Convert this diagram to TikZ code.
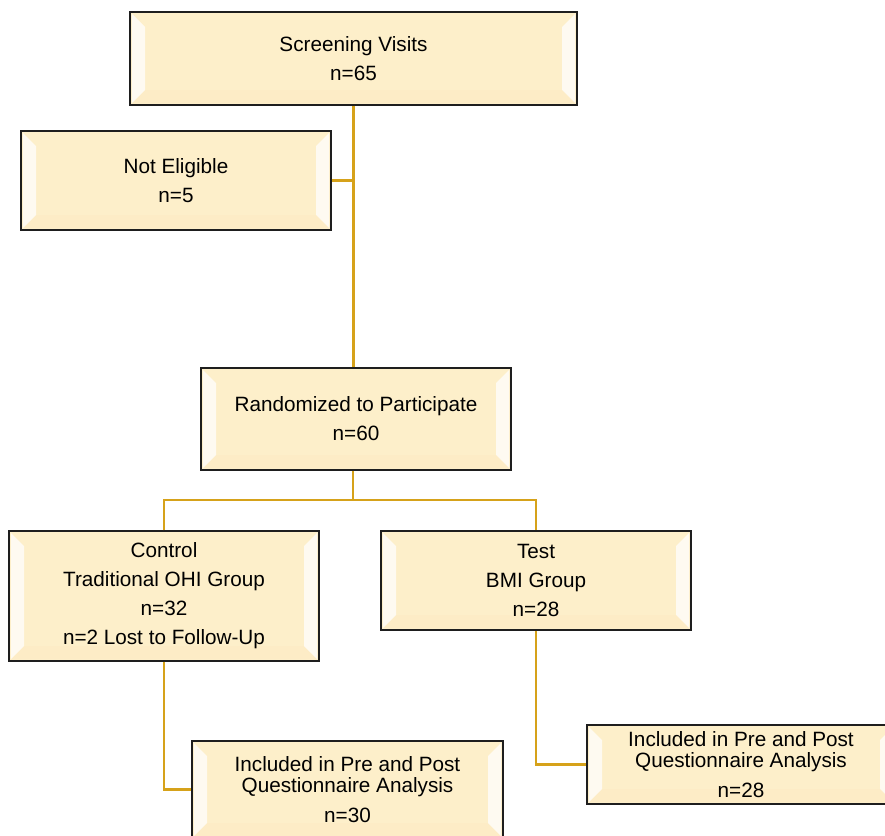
\documentclass[tikz,border=0pt]{standalone}
\usepackage{fontspec}
\setmainfont{Liberation Sans}
\definecolor{boxfill}{HTML}{FDEFCA}
\definecolor{boxline}{HTML}{1E1E1E}
\definecolor{conn}{HTML}{D6A21A}
\tikzset{
  fbox/.style={draw=boxline, line width=1.4pt, fill=boxfill, align=center,
    inner sep=0pt, font=\fontsize{20.7}{29}\selectfont,
    path picture={
      \fill[white,opacity=0.75] ([shift={(2pt,-2pt)}]path picture bounding box.north west) -- ([shift={(15pt,-15pt)}]path picture bounding box.north west) -- ([shift={(15pt,15pt)}]path picture bounding box.south west) -- ([shift={(2pt,2pt)}]path picture bounding box.south west) -- cycle;
      \fill[white,opacity=0.75] ([shift={(-2pt,-2pt)}]path picture bounding box.north east) -- ([shift={(-15pt,-15pt)}]path picture bounding box.north east) -- ([shift={(-15pt,15pt)}]path picture bounding box.south east) -- ([shift={(-2pt,2pt)}]path picture bounding box.south east) -- cycle;
      \fill[boxfill!90!orange,opacity=0.2] ([shift={(2pt,2pt)}]path picture bounding box.south west) -- ([shift={(15pt,15pt)}]path picture bounding box.south west) -- ([shift={(-15pt,15pt)}]path picture bounding box.south east) -- ([shift={(-2pt,2pt)}]path picture bounding box.south east) -- cycle;
    }},
  tight/.style={font=\fontsize{20.7}{21}\selectfont},
  link/.style={draw=conn, line width=2.4pt}
}
\begin{document}
\begin{tikzpicture}[x=1pt,y=-1pt]
\useasboundingbox (0,0) rectangle (885,835);
\coordinate (j) at (353,500);
\node[fbox, minimum width=447pt, minimum height=93pt] (scr) at (353.5,58.5) {Screening Visits\\n=65};
\node[fbox, minimum width=310pt, minimum height=99pt] (ne) at (176,180.5) {Not Eligible\\n=5};
\node[fbox, minimum width=310pt, minimum height=102pt] (rnd) at (356,419) {Randomized to Participate\\n=60};
\node[fbox, minimum width=310pt, minimum height=130pt] (ctl) at (164,596) {Control\\Traditional OHI Group\\n=32\\n=2 Lost to Follow-Up};
\node[fbox, minimum width=310pt, minimum height=99pt] (tst) at (536,580.5) {Test\\BMI Group\\n=28};
\node[fbox, tight, minimum width=311pt, minimum height=97pt] (inc30) at (347.5,789.5) {Included in Pre and Post\\Questionnaire Analysis\\[9pt]n=30};
\node[fbox, tight, minimum width=308pt, minimum height=79pt] (inc28) at (741,764.5) {Included in Pre and Post\\Questionnaire Analysis\\[9pt]n=28};
\draw[link] (scr.south) -- (scr.south |- rnd.north);
\draw[link] (ne.east) -- (ne.east -| scr.south);
\draw[link] (rnd.south -| j) -- (j);
\draw[link] (ctl.north) |- (j) -| (tst.north);
\draw[link] (ctl.south) |- (inc30.west);
\draw[link] (tst.south) |- (inc28.west);
\end{tikzpicture}
\end{document}
